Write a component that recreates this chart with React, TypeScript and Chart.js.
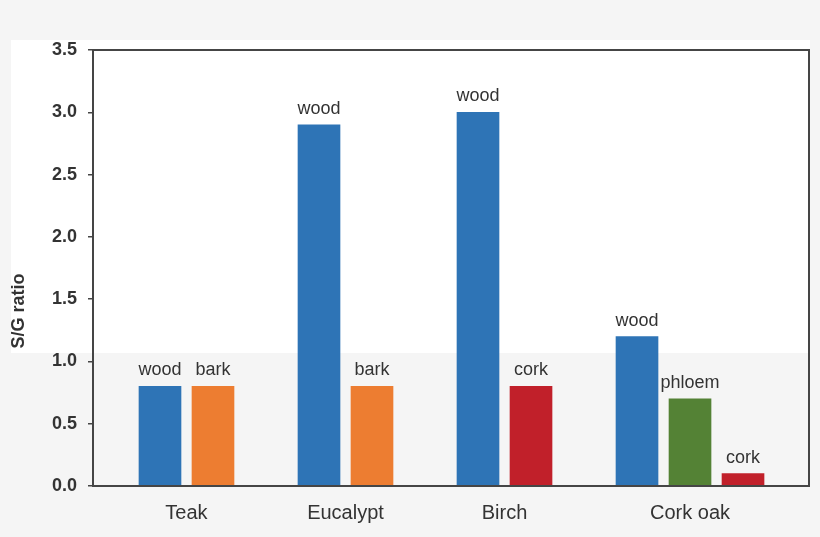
import React, { useEffect, useRef } from "react";
import { Chart, registerables } from "chart.js";

Chart.register(...registerables);

// ---- data ----
const categories = ["Teak", "Eucalypt", "Birch", "Cork oak"];
const barGroup = [0, 0, 1, 1, 2, 2, 3, 3, 3];
const barTissue = ["wood", "bark", "wood", "bark", "wood", "cork", "wood", "phloem", "cork"];
const sgRatio = [0.8, 0.8, 2.9, 0.8, 3.0, 0.8, 1.2, 0.7, 0.1];
const yTicks = [0, 0.5, 1.0, 1.5, 2.0, 2.5, 3.0, 3.5];

const tissueColor: Record<string, string> = {
  wood: "#2e74b6",
  bark: "#ed7d31",
  cork: "#c1202a",
  phloem: "#548235",
};

const FONT = "'Liberation Sans', Arial, Helvetica, sans-serif";
const TEXT = "#333333";
const AXIS = "#454545";

// slot position of each bar: 3 slots per group (last slot of 2-bar groups is a gap)
const slotOf = (i: number) => {
  const g = barGroup[i];
  let j = 0;
  for (let k = 0; k < i; k++) if (barGroup[k] === g) j++;
  return g * 3 + j;
};
const groupCenter = (g: number) => {
  const s = barGroup.map((gg, i) => (gg === g ? slotOf(i) : null)).filter((v) => v !== null) as number[];
  return s.reduce((a, b) => a + b, 0) / s.length;
};

export default function App() {
  const ref = useRef<HTMLCanvasElement | null>(null);

  useEffect(() => {
    if (!ref.current) return;

    const decor = {
      id: "decor",
      beforeDraw(chart: any) {
        const { ctx, width, height } = chart;
        ctx.save();
        ctx.fillStyle = "#f5f5f5";
        ctx.fillRect(0, 0, width, height);
        ctx.fillStyle = "#ffffff";
        ctx.fillRect(11, 40, 799, 313);
        ctx.restore();
      },
      afterDatasetsDraw(chart: any) {
        const { ctx } = chart;
        const meta = chart.getDatasetMeta(0);
        ctx.save();
        ctx.fillStyle = TEXT;
        ctx.font = `18px ${FONT}`;
        ctx.textAlign = "center";
        ctx.textBaseline = "alphabetic";
        meta.data.forEach((bar: any, i: number) => {
          ctx.fillText(barTissue[i], bar.x, bar.y - 11);
        });
        ctx.restore();
      },
      afterDraw(chart: any) {
        const { ctx, chartArea } = chart;
        ctx.save();
        ctx.strokeStyle = AXIS;
        ctx.lineWidth = 2;
        ctx.strokeRect(chartArea.left, chartArea.top, chartArea.right - chartArea.left, chartArea.bottom - chartArea.top);
        // y-axis title
        ctx.translate(19, 311);
        ctx.rotate(-Math.PI / 2);
        ctx.fillStyle = TEXT;
        ctx.font = `bold 18px ${FONT}`;
        ctx.textAlign = "center";
        ctx.textBaseline = "middle";
        ctx.fillText("S/G ratio", 0, 0);
        ctx.restore();
      },
    };

    const chart = new Chart(ref.current, {
      type: "bar",
      data: {
        datasets: [
          {
            data: sgRatio.map((v, i) => ({ x: slotOf(i), y: v })),
            backgroundColor: barTissue.map((t) => tissueColor[t]),
            barThickness: 42,
            borderWidth: 0,
          } as any,
        ],
      },
      options: {
        animation: false,
        responsive: false,
        maintainAspectRatio: false,
        layout: { padding: { left: 0, top: 50, right: 11, bottom: 0 } },
        plugins: { legend: { display: false }, tooltip: { enabled: false } },
        scales: {
          x: {
            type: "linear",
            offset: false,
            min: -1.264,
            max: 12.245,
            grid: { display: false, drawTicks: false, offset: false },
            border: { display: true, color: AXIS, width: 2 },
            afterBuildTicks: (scale: any) => {
              scale.ticks = categories.map((_, g) => ({ value: groupCenter(g) }));
            },
            afterFit: (scale: any) => {
              scale.height = 51;
            },
            ticks: {
              autoSkip: false,
              maxRotation: 0,
              padding: 15,
              color: TEXT,
              font: { family: FONT, size: 20 },
              callback: (_v: any, idx: number) => categories[idx],
            },
          },
          y: {
            min: 0,
            max: 3.5,
            afterBuildTicks: (scale: any) => {
              scale.ticks = yTicks.map((v) => ({ value: v }));
            },
            afterFit: (scale: any) => {
              scale.width = 93;
            },
            grid: {
              drawOnChartArea: false,
              drawTicks: true,
              tickLength: 5,
              color: AXIS,
              lineWidth: 1.5,
            },
            border: { display: true, color: AXIS, width: 2 },
            ticks: {
              padding: 11,
              color: TEXT,
              font: { family: FONT, size: 18, weight: "bold" },
              callback: (v: any) => Number(v).toFixed(1),
            },
          },
        },
      } as any,
      plugins: [decor],
    });

    return () => chart.destroy();
  }, []);

  return (
    <div style={{ position: "fixed", left: 0, top: 0, width: 820, height: 537 }}>
      <canvas ref={ref} width={820} height={537} style={{ width: 820, height: 537, display: "block" }} />
    </div>
  );
}
